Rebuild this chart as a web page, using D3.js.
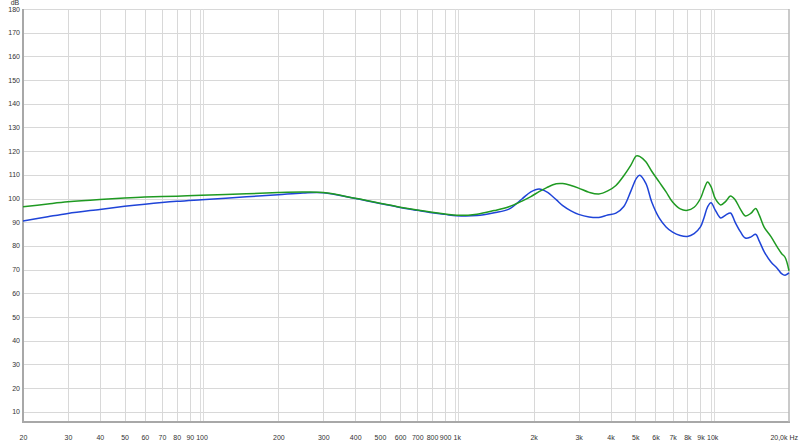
<!DOCTYPE html>
<html>
<head>
<meta charset="utf-8">
<script src="https://cdn.jsdelivr.net/npm/d3@7"></script>
<style>
  html, body { margin: 0; padding: 0; background: #fff; }
  svg { display: block; }
  text { font-family: "Liberation Sans", Arial, sans-serif; font-size: 7px; fill: #333; }
</style>
</head>
<body>
<svg id="chart" width="800" height="443"></svg>
<script>
// ---- data ----
const freqs = [20, 25, 30, 40, 50, 60, 80, 100, 150, 200, 250, 300, 400, 500, 600, 700, 800, 900, 1000,
  1200, 1400, 1600, 1800, 1950, 2100, 2250, 2450, 2600, 2800, 3000, 3300, 3600, 3900, 4200, 4500, 4800,
  5050, 5200, 5500, 5800, 6200, 6600, 7000, 7500, 8000, 8500, 9000, 9300, 9600, 9900, 10300, 10800,
  11300, 11800, 12300, 12900, 13500, 14200, 14800, 15300, 16000, 17000, 18000, 18700, 19300, 20000];

const greenValues = [96.5, 97.7, 98.6, 99.6, 100.2, 100.6, 101.0, 101.4, 102.0, 102.5, 102.7, 102.5, 100.1, 98.0, 96.3, 95.1, 94.2, 93.5, 92.9,
  93.4, 94.9, 96.5, 98.9, 100.8, 102.9, 104.6, 106.2, 106.3, 105.5, 104.4, 102.6, 101.9, 103.2, 105.5, 109.5, 114.0,
  118.0, 117.8, 115.5, 111.5, 107.0, 102.8, 98.5, 95.6, 95.0, 96.3, 100.0, 104.0, 107.0, 105.0, 99.8, 97.3,
  98.8, 101.1, 99.5, 95.5, 92.6, 93.8, 95.8, 93.0, 87.8, 83.9, 79.5, 76.8, 75.2, 69.5];

const blueValues = [90.5, 92.3, 93.7, 95.4, 96.7, 97.6, 98.8, 99.5, 100.7, 101.6, 102.3, 102.4, 100.0, 97.9, 96.2, 95.0, 94.0, 93.3, 92.7,
  92.8, 94.0, 95.5, 99.8, 102.8, 104.0, 102.8, 99.5, 97.0, 94.8, 93.3, 92.2, 92.0, 93.0, 93.8, 96.5, 103.0,
  108.5, 109.8, 106.4, 98.5, 91.8, 88.0, 85.8, 84.4, 84.0, 85.2, 88.0, 92.0, 96.5, 98.2, 95.0, 91.8,
  93.0, 93.9, 90.0, 86.0, 83.3, 83.8, 84.9, 82.0, 77.5, 73.2, 70.5, 68.3, 67.6, 68.6];

const yTicks = [10, 20, 30, 40, 50, 60, 70, 80, 90, 100, 110, 120, 130, 140, 150, 160, 170, 180];
const xGridFreqs = [30, 40, 50, 60, 70, 80, 90, 100, 200, 300, 400, 500, 600, 700, 800, 900, 1000,
  2000, 3000, 4000, 5000, 6000, 7000, 8000, 9000, 10000];
const xDecades = [100, 1000, 10000];
const xTickFreqs = [20, 30, 40, 50, 60, 70, 80, 90, 100, 200, 300, 400, 500, 600, 700, 800, 900, 1000,
  2000, 3000, 4000, 5000, 6000, 7000, 8000, 9000, 10000];
const xTickLabels = ["20", "30", "40", "50", "60", "70", "80", "90", "100", "200", "300", "400", "500", "600", "700", "800", "900", "1k",
  "2k", "3k", "4k", "5k", "6k", "7k", "8k", "9k", "10k"];
const lastLabel = "20,0k Hz";
const yUnit = "dB";

// ---- layout ----
const svg = d3.select("#chart");
const plotL = 23, plotR = 789, plotT = 9;
const x = d3.scaleLog().domain([20, 20000]).range([plotL, plotR]);
const y = d3.scaleLinear().domain([10, 180]).range([411.7, plotT]);
const plotB = y(5.65);

// horizontal grid
svg.append("g").selectAll("line").data(yTicks).join("line")
  .attr("x1", plotL).attr("x2", plotR)
  .attr("y1", d => Math.round(y(d)) + 0.5).attr("y2", d => Math.round(y(d)) + 0.5)
  .attr("stroke", "#d8d8d8").attr("stroke-width", 1);

// vertical grid
svg.append("g").selectAll("line").data(xGridFreqs.filter(f => !xDecades.includes(f))).join("line")
  .attr("x1", d => Math.round(x(d)) + 0.5).attr("x2", d => Math.round(x(d)) + 0.5)
  .attr("y1", plotT).attr("y2", plotB)
  .attr("stroke", "#d8d8d8").attr("stroke-width", 1);

// decade double lines
const dec = svg.append("g");
xDecades.forEach(f => {
  [-1.5, 1.5].forEach(o => {
    dec.append("line")
      .attr("x1", Math.round(x(f) + o) + 0.5).attr("x2", Math.round(x(f) + o) + 0.5)
      .attr("y1", plotT).attr("y2", plotB)
      .attr("stroke", "#dcdcdc").attr("stroke-width", 1);
  });
});

// frame
svg.append("line").attr("x1", plotL).attr("x2", plotL).attr("y1", plotT).attr("y2", plotB + 1)
  .attr("stroke", "#a8a8a8").attr("stroke-width", 2);
svg.append("line").attr("x1", plotL).attr("x2", plotR + 1).attr("y1", plotB).attr("y2", plotB)
  .attr("stroke", "#a8a8a8").attr("stroke-width", 2);
svg.append("line").attr("x1", plotR).attr("x2", plotR).attr("y1", plotT).attr("y2", plotB)
  .attr("stroke", "#b8b8b8").attr("stroke-width", 1.5);

// y labels
svg.append("g").selectAll("text").data(yTicks).join("text")
  .attr("x", 20).attr("y", d => y(d) + 2.6)
  .attr("text-anchor", "end").text(d => d);
svg.append("text").attr("x", 15).attr("y", 5.2)
  .attr("text-anchor", "middle").text(yUnit);

// x labels
svg.append("g").selectAll("text").data(xTickFreqs).join("text")
  .attr("x", d => x(d) + 0.5).attr("y", 439.5)
  .attr("text-anchor", "middle").text((d, i) => xTickLabels[i]);
svg.append("text").attr("x", 798).attr("y", 439.5)
  .attr("text-anchor", "end").text(lastLabel);

// curves
const line = d3.line().x(d => x(d[0])).y(d => y(d[1])).curve(d3.curveCatmullRom.alpha(0.5));
const gData = freqs.map((f, i) => [f, greenValues[i]]);
const bData = freqs.map((f, i) => [f, blueValues[i]]);

svg.append("path").datum(bData).attr("d", line)
  .attr("fill", "none").attr("stroke", "#1f44d8").attr("stroke-width", 1.5);
svg.append("path").datum(gData).attr("d", line)
  .attr("fill", "none").attr("stroke", "#1f9a22").attr("stroke-width", 1.5);
</script>
</body>
</html>
